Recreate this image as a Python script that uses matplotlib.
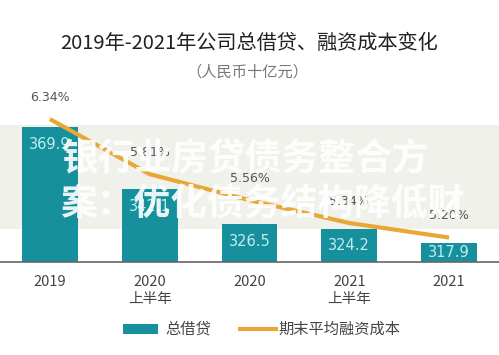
import matplotlib
matplotlib.use("Agg")
import matplotlib.pyplot as plt
from matplotlib.patches import Rectangle
from matplotlib.lines import Line2D

plt.rcParams['font.family'] = ['Noto Sans CJK SC', 'DejaVu Sans']

# data
periods = ["2019", "2020\n上半年", "2020", "2021\n上半年", "2021"]
borrowings = [369.9, 342.1, 326.5, 324.2, 317.9]
cost = [6.34, 5.81, 5.56, 5.34, 5.20]
cost_labels = ["6.34%", "5.81%", "5.56%", "5.34%", "5.20%"]

teal = "#15909c"
orange = "#e8a838"

fig = plt.figure(figsize=(4.99, 3.55), dpi=100)
fig.patch.set_facecolor("white")

# watermark band behind the plot
fig.patches.append(Rectangle((0, 1 - 229 / 355), 1, 104 / 355, transform=fig.transFigure,
                             facecolor="#f1f1ec", edgecolor="none", zorder=0))

ax = fig.add_axes([0, 1 - 262 / 355, 1, 172 / 355])
ax.set_zorder(1)
ax.set_facecolor("none")
ymin, ymax = 309.5, 386.3
x = range(len(periods))
ax.bar(x, [b - ymin for b in borrowings], bottom=ymin, width=0.56, color=teal, zorder=2)
ax.set_ylim(ymin, ymax)
ax.set_xlim(-0.5, 4.5)
for i, b in enumerate(borrowings):
    yl = max(b - 8, (b + ymin) / 2)
    ax.text(i, yl, f"{b:.1f}", ha="center", va="center", color="#c4ecef",
            fontsize=10.5, zorder=3, family="DejaVu Sans")

for s in ["top", "right", "left"]:
    ax.spines[s].set_visible(False)
ax.spines["bottom"].set_color("#666666")
ax.spines["bottom"].set_linewidth(1.2)
ax.set_yticks([])
ax.set_xticks(list(x))
ax.set_xticklabels(periods, fontsize=10.5, color="#444444", linespacing=1.3)
ax.tick_params(axis="x", length=0, pad=9)

ax2 = ax.twinx()
ax2.set_zorder(2)
ax2.set_ylim(4.965, 6.62)
ax2.plot(list(x), cost, color=orange, lw=3, zorder=4, solid_capstyle="butt")
for i, (c, lab) in enumerate(zip(cost, cost_labels)):
    ax2.annotate(lab, (i, c), xytext=(0, 11), textcoords="offset points",
                 ha="center", va="bottom", fontsize=9, color="#555555",
                 family="DejaVu Sans")
ax2.axis("off")

fig.text(0.5, 1 - 43 / 355, "2019年-2021年公司总借贷、融资成本变化", ha="center",
         va="center", fontsize=14.5, color="#222222")
fig.text(0.495, 1 - 72 / 355, "（人民币十亿元）", ha="center", va="center",
         fontsize=11, color="#777777")

# legend
ly = 1 - 329 / 355
fig.patches.append(Rectangle((123 / 499, ly - 5 / 355), 35 / 499, 10 / 355,
                             transform=fig.transFigure, facecolor=teal, edgecolor="none"))
fig.text(165 / 499, ly, "总借贷", va="center", fontsize=11, color="#444444")
fig.lines.append(Line2D([240 / 499, 276 / 499], [ly, ly], transform=fig.transFigure,
                        color=orange, lw=3))
fig.text(278 / 499, ly, "期末平均融资成本", va="center", fontsize=11, color="#444444")

# watermark text
fig.text(62 / 499, 1 - 160 / 355, "银行业房贷债务整合方", va="center", fontsize=26.5,
         fontweight="bold", color="white", alpha=0.9, zorder=10)
fig.text(60 / 499, 1 - 205 / 355, "案：优化债务结构降低财", va="center", fontsize=26.5,
         fontweight="bold", color="white", alpha=0.9, zorder=10)

fig.savefig("out.png", dpi=100)
